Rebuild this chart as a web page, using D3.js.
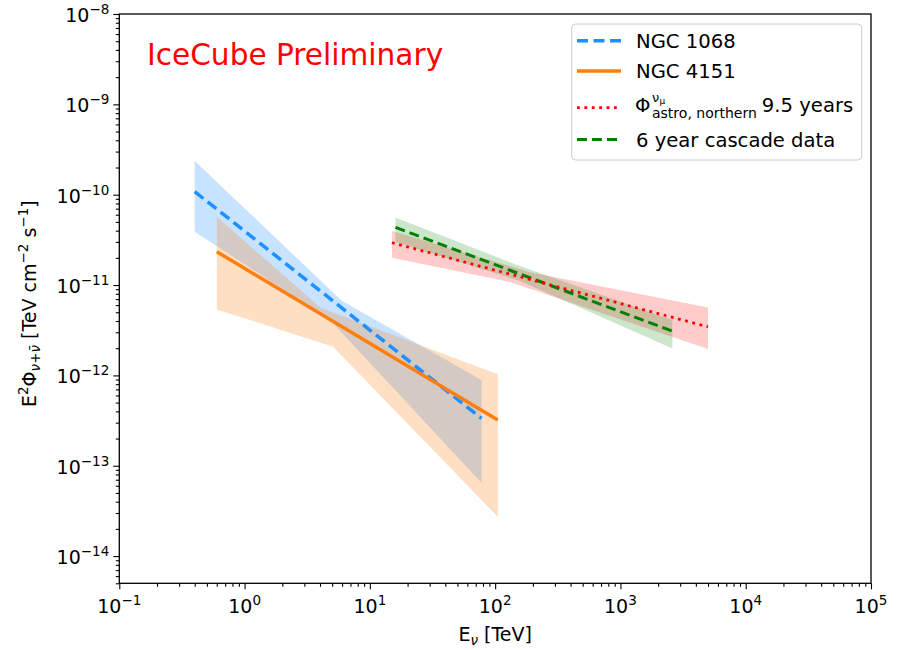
<!DOCTYPE html>
<html>
<head>
<meta charset="utf-8">
<script src="https://cdn.jsdelivr.net/npm/d3@7"></script>
<style>
  html, body { margin: 0; padding: 0; background: #fff; }
  svg { display: block; font-family: "DejaVu Sans", sans-serif; }
  text { white-space: pre; }
</style>
</head>
<body>
<svg id="chart" width="899" height="650"></svg>
<script>
// ---- data: energies in TeV, E^2 flux in TeV cm^-2 s^-1 ----
const ngc1068E = [0.40, 78];
const ngc1068F = [1.08e-10, 3.34e-13];
const ngc1068Upper = [[0.40, 2.36e-10], [6.0, 6.65e-12], [78, 8.87e-13]];
const ngc1068Lower = [[0.40, 3.89e-11], [4.8, 4.1e-12], [78, 6.43e-14]];

const ngc4151E = [0.60, 105];
const ngc4151F = [2.34e-11, 3.2e-13];
const ngc4151Upper = [[0.60, 5.7e-11], [4.07, 5.56e-12], [105, 1.03e-12]];
const ngc4151Lower = [[0.60, 5.38e-12], [5.08, 2.07e-12], [105, 2.72e-14]];

const northernE = [15, 5000];
const northernF = [2.94e-11, 3.45e-12];
const northernUpper = [[15, 3.96e-11], [190, 1.39e-11], [5000, 5.66e-12]];
const northernLower = [[15, 2.0e-11], [131, 1.08e-11], [5000, 1.96e-12]];

const cascadeE = [16, 2600];
const cascadeF = [4.35e-11, 3.09e-12];
const cascadeUpper = [[16, 5.61e-11], [158, 1.62e-11], [2600, 4.1e-12]];
const cascadeLower = [[16, 2.99e-11], [158, 1.11e-11], [2600, 1.99e-12]];

const xDecades = [1e-1, 1e0, 1e1, 1e2, 1e3, 1e4, 1e5];
const xExponents = [-1, 0, 1, 2, 3, 4, 5];
const yDecades = [1e-14, 1e-13, 1e-12, 1e-11, 1e-10, 1e-9, 1e-8];
const yExponents = [-14, -13, -12, -11, -10, -9, -8];

const legendLabels = ["NGC 1068", "NGC 4151", "northern", "6 year cascade data"];

// ---- layout ----
const svg = d3.select("#chart");
const L = 119.3, R = 871, T = 14, B = 583.3;
const x = d3.scaleLog().domain([1e-1, 1e5]).range([L, R]);
const y = d3.scaleLog().domain([5e-15, 1e-8]).range([B, T]);

const FS = 19;
const LFS = 19.6;

function minorTicks(domain) {
  const out = [];
  const lo = Math.floor(Math.log10(domain[0])), hi = Math.ceil(Math.log10(domain[1]));
  for (let e = lo; e < hi; e++) {
    for (let k = 2; k <= 9; k++) {
      const v = k * Math.pow(10, e);
      if (v >= domain[0] * 0.9999 && v <= domain[1] * 1.0001) out.push(v);
    }
  }
  return out;
}

// rich text with sub/superscripts built from tspans
function rich(sel, parts) {
  let cur = 0;
  parts.forEach(p => {
    const target = p.shift || 0;
    const ts = sel.append("tspan").attr("dy", (target - cur) + "px").text(p.t);
    if (p.size) ts.attr("font-size", p.size);
    if (p.italic) ts.attr("font-style", "italic");
    cur = target;
  });
}

function expLabel(sel, e) {
  rich(sel, [{ t: "10" }, { t: (e < 0 ? "\u2212" + (-e) : String(e)), shift: -8, size: 13.5 }]);
}

// ---- bands ----
const bandPath = (upper, lower) => {
  const pts = upper.concat(lower.slice().reverse());
  return d3.line().x(d => x(d[0])).y(d => y(d[1]))(pts) + "Z";
};

const plot = svg.append("g");
plot.append("path").attr("d", bandPath(ngc1068Upper, ngc1068Lower))
  .attr("fill", "#1e90ff").attr("fill-opacity", 0.25);
plot.append("path").attr("d", bandPath(ngc4151Upper, ngc4151Lower))
  .attr("fill", "#ff7f0e").attr("fill-opacity", 0.25);
plot.append("path").attr("d", bandPath(northernUpper, northernLower))
  .attr("fill", "#ff0000").attr("fill-opacity", 0.2);
plot.append("path").attr("d", bandPath(cascadeUpper, cascadeLower))
  .attr("fill", "#008000").attr("fill-opacity", 0.2);

// ---- best-fit lines ----
const fitLine = d3.line().x(d => x(d[0])).y(d => y(d[1]));
const zip = (a, b) => a.map((v, i) => [v, b[i]]);

const lineStyles = [
  { E: ngc1068E, F: ngc1068F, color: "#1e90ff", width: 3.5, dash: "11,5.5" },
  { E: ngc4151E, F: ngc4151F, color: "#ff7f0e", width: 3.5, dash: null },
  { E: cascadeE, F: cascadeF, color: "#008000", width: 3, dash: "10,5" },
  { E: northernE, F: northernF, color: "#ff0000", width: 2.8, dash: "2.8,4.6" }
];
lineStyles.forEach(s => {
  plot.append("path").attr("d", fitLine(zip(s.E, s.F)))
    .attr("fill", "none").attr("stroke", s.color).attr("stroke-width", s.width)
    .attr("stroke-dasharray", s.dash);
});

// ---- axes ----
const axes = svg.append("g").attr("font-size", FS);

const xMajor = axes.append("g").attr("transform", `translate(0,${B})`)
  .call(d3.axisBottom(x).tickValues(xDecades).tickSize(6).tickFormat(""));
const xMinor = axes.append("g").attr("transform", `translate(0,${B})`)
  .call(d3.axisBottom(x).tickValues(minorTicks(x.domain())).tickSize(3.5).tickFormat(""));
const yMajor = axes.append("g").attr("transform", `translate(${L},0)`)
  .call(d3.axisLeft(y).tickValues(yDecades).tickSize(6).tickFormat(""));
const yMinor = axes.append("g").attr("transform", `translate(${L},0)`)
  .call(d3.axisLeft(y).tickValues(minorTicks(y.domain())).tickSize(3.5).tickFormat(""));
[xMajor, xMinor, yMajor, yMinor].forEach(g => {
  g.select(".domain").remove();
  g.selectAll(".tick line").attr("stroke", "#000").attr("stroke-width", 1.1);
});

xDecades.forEach((v, i) => {
  const t = axes.append("text").attr("x", x(v)).attr("y", 613)
    .attr("text-anchor", "middle").attr("fill", "#000");
  expLabel(t, xExponents[i]);
});
yDecades.forEach((v, i) => {
  const t = axes.append("text").attr("x", L - 10).attr("y", y(v) + 8)
    .attr("text-anchor", "end").attr("fill", "#000");
  expLabel(t, yExponents[i]);
});

// frame
svg.append("rect").attr("x", L).attr("y", T).attr("width", R - L).attr("height", B - T)
  .attr("fill", "none").attr("stroke", "#000").attr("stroke-width", 1.3);

// axis titles
const xt = svg.append("text").attr("x", (L + R) / 2).attr("y", 641)
  .attr("text-anchor", "middle").attr("font-size", FS).attr("fill", "#000");
rich(xt, [{ t: "E" }, { t: "\u03bd", shift: 4, size: 13.5, italic: true }, { t: " [TeV]" }]);

const yt = svg.append("text").attr("transform", `translate(36,${(T + B) / 2 + 5}) rotate(-90)`)
  .attr("text-anchor", "middle").attr("font-size", FS).attr("fill", "#000");
rich(yt, [
  { t: "E" }, { t: "2", shift: -8, size: 13.5 }, { t: "\u03a6" },
  { t: "\u03bd+\u03bd\u0304", shift: 4, size: 13.5, italic: true },
  { t: " [TeV cm" }, { t: "\u22122", shift: -8, size: 13.5 },
  { t: " s" }, { t: "\u22121", shift: -8, size: 13.5 }, { t: "]" }
]);

// preliminary tag
svg.append("text").attr("x", 147).attr("y", 65).attr("font-size", 29.6)
  .attr("fill", "#ff0000").text("IceCube Preliminary");

// ---- legend ----
const leg = svg.append("g").attr("font-size", LFS);
leg.append("rect").attr("x", 571.7).attr("y", 24).attr("width", 290).attr("height", 136)
  .attr("rx", 4).attr("fill", "#fff").attr("fill-opacity", 0.8)
  .attr("stroke", "#cccccc").attr("stroke-width", 1);

const rowY = [40.7, 70.9, 107.7, 139.5];
const rowBase = [47.7, 78, 111.7, 147];
const handles = [lineStyles[0], lineStyles[1], lineStyles[3], lineStyles[2]];
handles.forEach((s, i) => {
  leg.append("line").attr("x1", 577).attr("x2", 621).attr("y1", rowY[i]).attr("y2", rowY[i])
    .attr("stroke", s.color).attr("stroke-width", s.width).attr("stroke-dasharray", s.dash);
});
leg.append("text").attr("x", 636).attr("y", rowBase[0]).text(legendLabels[0]);
leg.append("text").attr("x", 636).attr("y", rowBase[1]).text(legendLabels[1]);
leg.append("text").attr("x", 636).attr("y", rowBase[3]).text(legendLabels[3]);

// flux symbol with stacked super/subscripts
leg.append("text").attr("x", 635).attr("y", rowBase[2]).text("\u03a6");
leg.append("text").attr("x", 652).attr("y", 101.5).attr("font-size", 13).text("\u03bd");
leg.append("text").attr("x", 659.5).attr("y", 104).attr("font-size", 9).text("\u03bc");
const sub = leg.append("text").attr("x", 652).attr("y", 118).attr("font-size", 14)
  .text("astro, northern");
const subBox = sub.node().getBBox();
leg.append("text").attr("x", subBox.x + subBox.width + 5).attr("y", rowBase[2]).text("9.5 years");
</script>
</body>
</html>
